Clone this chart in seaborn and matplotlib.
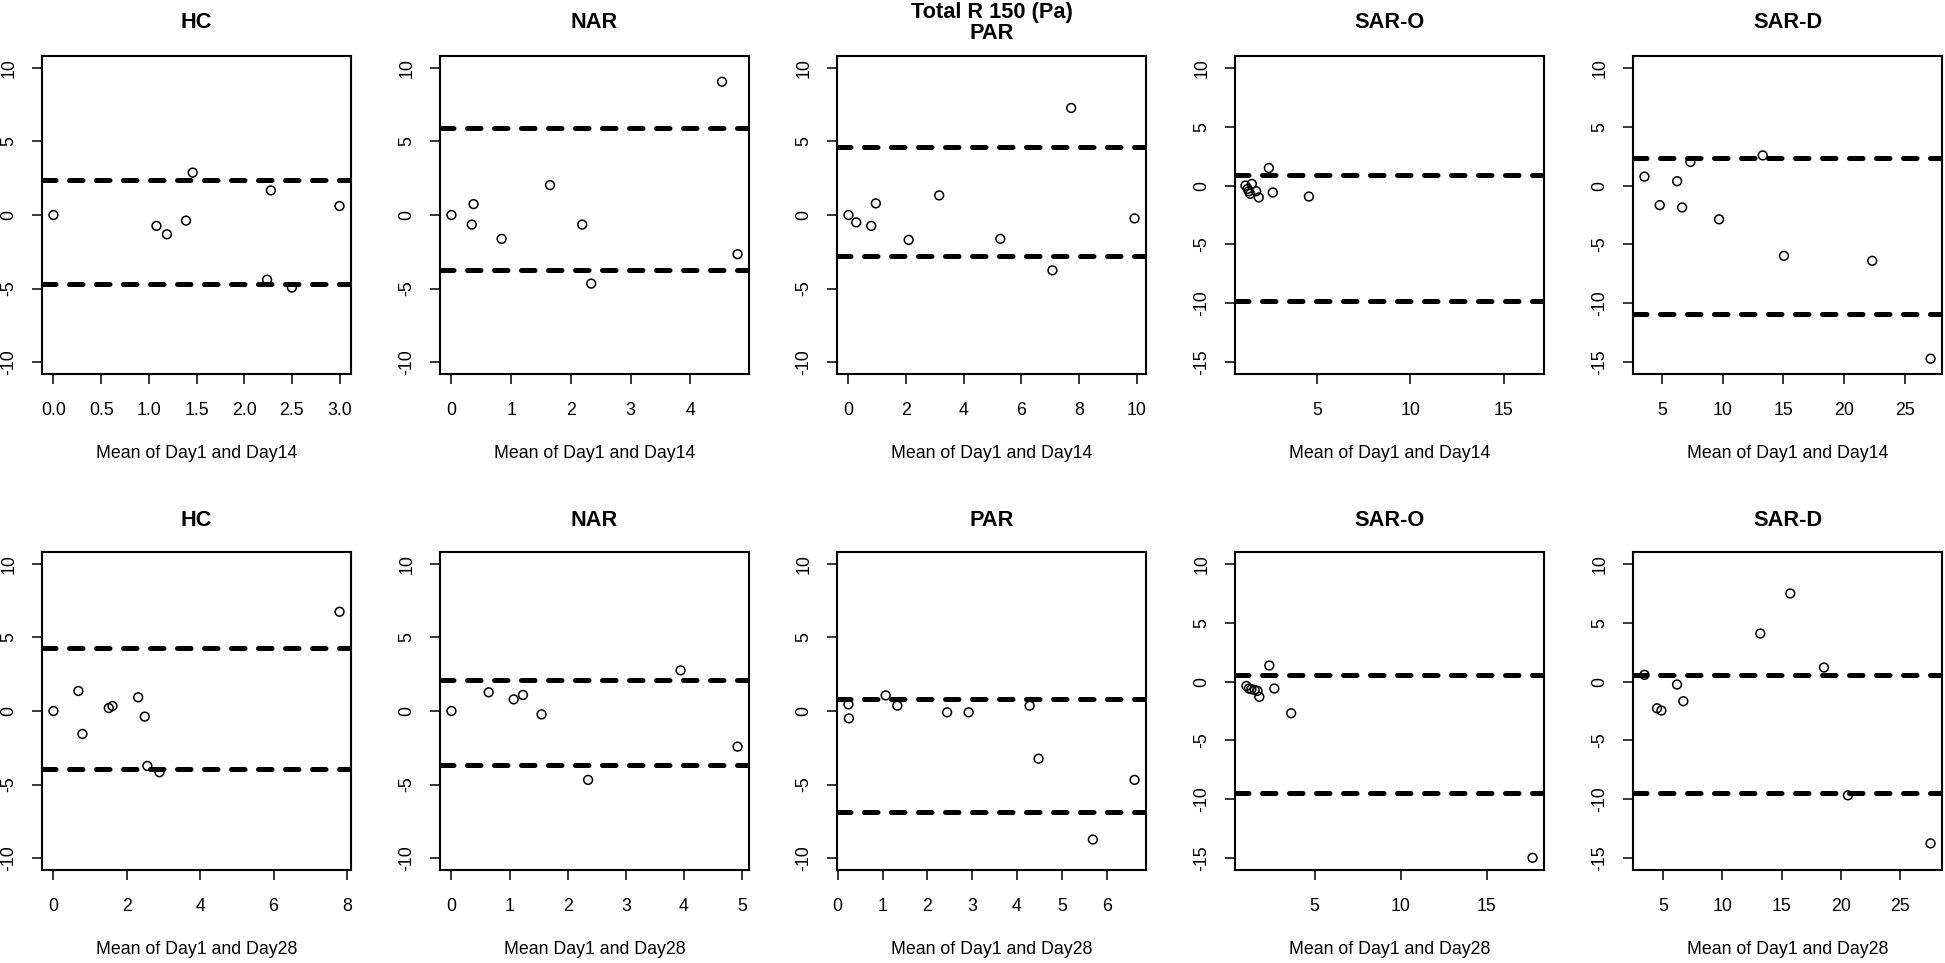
import seaborn as sns
import pandas as pd
import numpy as np
import matplotlib.pyplot as plt

# Bland-Altman panels: Total R 150 (Pa), Day1 vs Day14 (top) and Day1 vs Day28 (bottom)
groups = ["HC", "NAR", "PAR", "SAR-O", "SAR-D"]

# ---- Day14 ----
hc14_mean = [0.0, 1.08, 1.19, 1.39, 1.46, 2.28, 2.24, 2.50, 3.00]
hc14_diff = [0.0, -0.74, -1.31, -0.38, 2.88, 1.67, -4.39, -4.93, 0.61]
nar14_mean = [0.0, 0.34, 0.37, 0.84, 1.65, 2.19, 2.34, 4.53, 4.79]
nar14_diff = [0.0, -0.65, 0.74, -1.62, 2.03, -0.65, -4.66, 9.05, -2.66]
par14_mean = [0.0, 0.27, 0.79, 0.95, 2.09, 3.15, 5.27, 7.08, 7.73, 9.93]
par14_diff = [0.0, -0.50, -0.74, 0.79, -1.69, 1.33, -1.62, -3.76, 7.27, -0.23]
saro14_mean = [1.18, 1.30, 1.36, 1.43, 1.52, 1.75, 1.89, 2.43, 2.64, 4.57]
saro14_diff = [0.0, -0.28, -0.48, -0.70, 0.14, -0.48, -1.01, 1.49, -0.59, -0.93]
sard14_mean = [3.56, 4.82, 6.25, 6.66, 7.34, 9.70, 13.29, 15.04, 22.30, 27.10]
sard14_diff = [0.76, -1.66, 0.37, -1.86, 2.00, -2.87, 2.56, -5.97, -6.39, -14.70]
upper14 = [2.36, 5.90, 4.64, 0.87, 2.37]
lower14 = [-4.68, -3.72, -2.77, -9.83, -10.90]

# ---- Day28 ----
hc28_mean = [0.0, 0.68, 0.79, 1.51, 1.61, 2.31, 2.49, 2.56, 2.89, 7.80]
hc28_diff = [0.0, 1.36, -1.56, 0.20, 0.34, 0.93, -0.38, -3.73, -4.16, 6.74]
nar28_mean = [0.0, 0.64, 1.07, 1.23, 1.55, 2.35, 3.94, 4.92]
nar28_diff = [0.0, 1.27, 0.79, 1.09, -0.23, -4.68, 2.76, -2.42]
par28_mean = [0.24, 0.25, 1.07, 1.33, 2.44, 2.92, 4.28, 4.48, 5.69, 6.62]
par28_diff = [0.45, -0.50, 1.06, 0.36, -0.09, -0.09, 0.36, -3.24, -8.73, -4.68]
saro28_mean = [1.04, 1.18, 1.33, 1.52, 1.68, 1.79, 2.37, 2.66, 3.64, 17.67]
saro28_diff = [-0.37, -0.59, -0.65, -0.71, -0.79, -1.30, 1.36, -0.59, -2.69, -14.96]
sard28_mean = [3.43, 4.49, 4.86, 6.18, 6.71, 13.20, 15.73, 18.57, 20.59, 27.56]
sard28_diff = [0.57, -2.27, -2.46, -0.25, -1.67, 4.08, 7.48, 1.19, -9.66, -13.74]
upper28 = [4.30, 2.10, 0.81, 0.59, 0.59]
lower28 = [-3.94, -3.67, -6.88, -9.46, -9.46]

# tick labels
xticks14 = [[0, 0.5, 1, 1.5, 2, 2.5, 3], [0, 1, 2, 3, 4], [0, 2, 4, 6, 8, 10],
            [5, 10, 15], [5, 10, 15, 20, 25]]
xticks28 = [[0, 2, 4, 6, 8], [0, 1, 2, 3, 4, 5], [0, 1, 2, 3, 4, 5, 6],
            [5, 10, 15], [5, 10, 15, 20, 25]]
yticks_std = [-10, -5, 0, 5, 10]
yticks_sar = [-15, -10, -5, 0, 5, 10]
xlabels14 = ["Mean of Day1 and Day14"] * 5
xlabels28 = ["Mean of Day1 and Day28", "Mean Day1 and Day28", "Mean of Day1 and Day28",
             "Mean of Day1 and Day28", "Mean of Day1 and Day28"]
titles14 = ["HC", "NAR", "Total R 150 (Pa)\nPAR", "SAR-O", "SAR-D"]
titles28 = groups

rows = [
    dict(means=[hc14_mean, nar14_mean, par14_mean, saro14_mean, sard14_mean],
         diffs=[hc14_diff, nar14_diff, par14_diff, saro14_diff, sard14_diff],
         upper=upper14, lower=lower14, xticks=xticks14, xlabels=xlabels14,
         titles=titles14, top=56, title_y=23, tick_fmt=["{:.1f}", "{:g}", "{:g}", "{:g}", "{:g}"],
         xlim={3: (0.62, 17.14)}),
    dict(means=[hc28_mean, nar28_mean, par28_mean, saro28_mean, sard28_mean],
         diffs=[hc28_diff, nar28_diff, par28_diff, saro28_diff, sard28_diff],
         upper=upper28, lower=lower28, xticks=xticks28, xlabels=xlabels28,
         titles=titles28, top=552, title_y=520, tick_fmt=["{:g}"] * 5,
         xlim={}),
]

sns.set_style("white")
plt.rcParams['font.family'] = ['Liberation Sans', 'DejaVu Sans']
plt.rcParams['axes.unicode_minus'] = False

W, H = 1945, 963
fig = plt.figure(figsize=(W / 100, H / 100), dpi=100)

lefts = [42, 440, 837, 1235, 1633]
aw, ah = 309, 318

for row in rows:
    for i in range(5):
        left, top = lefts[i], row["top"]
        ax = fig.add_axes([left / W, 1 - (top + ah) / H, aw / W, ah / H])
        df = pd.DataFrame({"mean": row["means"][i], "diff": row["diffs"][i]})
        sns.scatterplot(data=df, x="mean", y="diff", ax=ax, s=40,
                        facecolors="none", edgecolor="black", linewidth=1.1, zorder=3)
        for v in (row["upper"][i], row["lower"][i]):
            ax.axhline(v, color="black", lw=3.6, linestyle=(0, (2.7, 2.7)),
                       dash_capstyle="round", zorder=2)

        # R style 4% padding
        if i in row["xlim"]:
            ax.set_xlim(*row["xlim"][i])
        else:
            lo, hi = min(df["mean"]), max(df["mean"])
            pad = 0.04 * (hi - lo)
            ax.set_xlim(lo - pad, hi + pad)
        if i >= 3:
            ax.set_ylim(-16, 11)
            ax.set_yticks(yticks_sar)
        else:
            ax.set_ylim(-10.8, 10.8)
            ax.set_yticks(yticks_std)
        ax.set_yticklabels([str(t) for t in ax.get_yticks().astype(int)])
        xt = row["xticks"][i]
        ax.set_xticks(xt)
        ax.set_xticklabels([row["tick_fmt"][i].format(t) for t in xt])

        ax.tick_params(axis="both", direction="out", length=7.5, width=1.1,
                       labelsize=12.8, color="black", labelcolor="black")
        ax.tick_params(axis="x", pad=13, bottom=True)
        ax.tick_params(axis="y", pad=10, left=True, labelrotation=90)
        for lab in ax.get_yticklabels():
            lab.set_va("center")
        for s in ax.spines.values():
            s.set_color("black")
            s.set_linewidth(1.5)

        ax.set_ylabel("")
        ax.set_xlabel(row["xlabels"][i], fontsize=12.8, color="black")
        ax.xaxis.set_label_coords(0.5, -79 / ah)
        ax.xaxis.label.set_va("center")

        fig.text((left + aw / 2) / W, 1 - row["title_y"] / H, row["titles"][i],
                 ha="center", va="center", fontsize=15.7, fontweight="bold",
                 linespacing=1.05, color="black")

fig.savefig("out.png", dpi=100, facecolor="white")
